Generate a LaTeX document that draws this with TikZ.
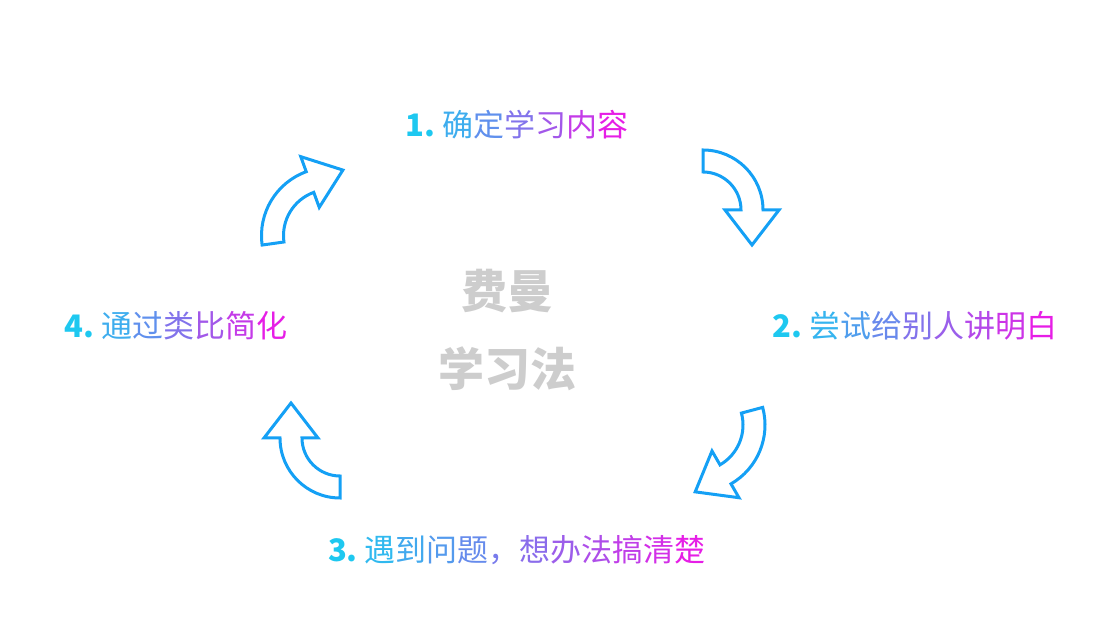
\documentclass[tikz,border=0pt]{standalone}
\usepackage{fontspec}
\newfontfamily\cjk{Noto Sans CJK SC}
\usetikzlibrary{calc}
\definecolor{gA}{RGB}{30,200,240}
\definecolor{gB}{RGB}{230,30,230}
\definecolor{arrblue}{RGB}{20,160,245}
\definecolor{centergray}{RGB}{205,205,205}
\tikzset{arr/.style={draw=arrblue,line width=3pt,line join=miter,fill=white},
  lbl/.style={font=\cjk\fontsize{31}{36}\selectfont,inner sep=0pt}}
% cx, cy (tikz), start, end, R, r
\newcommand\carrow[6]{%
\begin{scope}[shift={(#1,#2)}]
\pgfmathsetmacro\Rm{(#5+#6)/2}
\pgfmathsetmacro\Ho{\Rm+27}
\pgfmathsetmacro\Hi{\Rm-27}
\draw[arr] (#3:#5) arc[start angle=#3,end angle=#4,radius=#5] -- (#4:\Ho)
  -- ($(#4:\Rm)+(#4-90:35)$) -- (#4:\Hi) -- (#4:#6)
  arc[start angle=#4,end angle=#3,radius=#6] -- cycle;
\end{scope}}
\newcommand\gtext[2]{\foreach \ch [count=\i] in {#2}{\pgfmathtruncatemacro\p{100*(\i-1)/(#1-1)}\textcolor{gB!\p!gA}{\ch}}}
\begin{document}
\begin{tikzpicture}[x=1pt,y=1pt]
\useasboundingbox (0,0) rectangle (1120,617);
% arrows (tikz y = 617 - pixel y)
\carrow{703}{407}{90}{0}{60}{38}
\carrow{697}{192}{15}{-60}{68}{46}
\carrow{340}{179}{-90}{-180}{60}{38}
\carrow{329.5}{381.4}{188}{110}{68}{46}
% labels
\node[lbl] (t1) at (517,492) {\gtext{7}{{\bfseries 1.\ },确,定,学,习,内,容}};
\node[lbl] (t2) at (915,291) {\gtext{9}{{\bfseries 2.\ },尝,试,给,别,人,讲,明,白}};
\node[lbl] (t3) at (517,67) {\gtext{12}{{\bfseries 3.\ },遇,到,问,题,，,想,办,法,搞,清,楚}};
\node[lbl] (t4) at (176,291) {\gtext{7}{{\bfseries 4.\ },通,过,类,比,简,化}};
\node[font=\cjk\bfseries\fontsize{46}{78}\selectfont,text=centergray,align=center] (c) at (507,287) {费曼\\学习法};
\end{tikzpicture}
\end{document}
